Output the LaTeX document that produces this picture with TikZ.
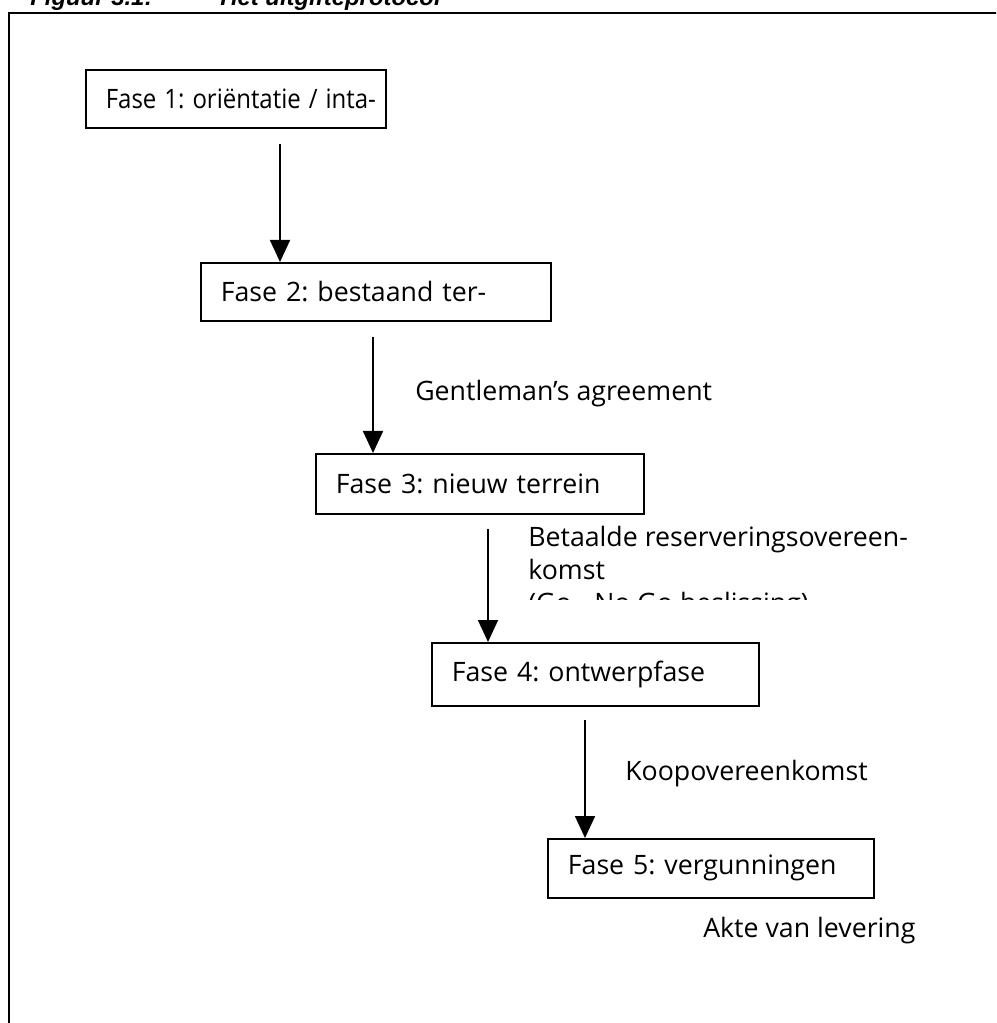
\documentclass[tikz,border=0pt]{standalone}
\usepackage{fontspec}
\usepackage{graphicx}
\setmainfont{Open Sans}
\newfontfamily\arialfont{Liberation Sans}
\usetikzlibrary{arrows.meta,positioning}
\newcommand\pxu{0.025cm}
\newcommand\fasefont{\frenchspacing\fontsize{19}{23.5}\selectfont}
\newcommand\titelfont{\arialfont\bfseries\itshape\fontsize{17}{20}\selectfont}
\tikzset{
  fase/.style={draw, rectangle, line width=1.2pt, anchor=north west,
               inner xsep=0.5cm, inner ysep=0pt, font=\fasefont},
  lbl/.style={anchor=base west, align=left, inner sep=0pt, font=\fasefont},
  titel/.style={anchor=base west, inner sep=0pt, font=\titelfont},
  flow/.style={line width=1.2pt, -{Triangle[length=0.55cm,width=0.5cm]}},
  kader/.style={line width=1.2pt},
}

\begin{document}
\begin{tikzpicture}[x=\pxu, y=-\pxu]
  \clip (0,0) rectangle (996,1023);
  % frame and title
  \draw[kader] (9,1040) -- (9,13) -- (1010,13);
  \node[titel] (titel1) at (30,6)  {Figuur 3.1:};
  \node[titel] (titel2) at (220,6) {Het uitgifteprotocol};
  % phases
  \node[fase, text width=6.5cm,   minimum height=1.45cm]  (f1) at (85,69)  {\resizebox{6.75cm}{\height}{Fase 1: oriëntatie / inta-}};
  \node[fase, text width=7.75cm,  minimum height=1.45cm]  (f2) at (200,262) {\mbox{Fase 2: bestaand ter-}};
  \node[fase, text width=7.2cm,   minimum height=1.5cm]   (f3) at (315,453) {\mbox{Fase 3: nieuw terrein}};
  \node[fase, text width=7.175cm, minimum height=1.575cm] (f4) at (431,642) {\mbox{Fase 4: ontwerpfase}};
  \node[fase, text width=7.15cm,  minimum height=1.475cm] (f5) at (547,838) {\mbox{Fase 5: vergunningen}};
  % arrow columns
  \coordinate (c1) at (280,0);
  \coordinate (c2) at (373,0);
  \coordinate (c3) at (488,0);
  \coordinate (c4) at (585,0);
  % arrows
  \draw[flow] ([yshift=-0.375cm]f1.south -| c1) -- (f2.north -| c1);
  \draw[flow] ([yshift=-0.375cm]f2.south -| c2) -- (f3.north -| c2);
  \draw[flow] ([yshift=-0.35cm]f3.south -| c3)  -- (f4.north -| c3);
  \draw[flow] ([yshift=-0.325cm]f4.south -| c4) -- (f5.north -| c4);
  % labels
  \node[lbl] (a2) at (415,400) {Gentleman\char39 s agreement};
  \begin{scope}
    \clip (500,500) rectangle (990,599);
    \node[lbl, anchor=north west] (a3) at (528,526) {Betaalde reserveringsovereen-\\komst\\(Go - No Go beslissing)};
  \end{scope}
  \node[lbl] (a4) at (625,780) {Koopovereenkomst};
  \node[lbl] (a5) at (703,937) {Akte van levering};
\end{tikzpicture}
\end{document}
